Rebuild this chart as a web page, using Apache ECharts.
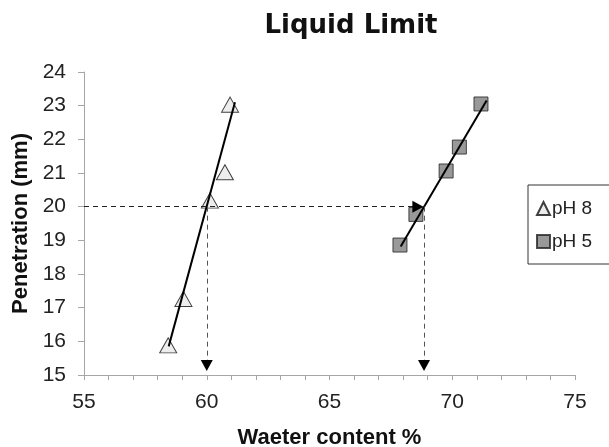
<!DOCTYPE html>
<html>
<head>
<meta charset="utf-8">
<script src="https://cdn.jsdelivr.net/npm/echarts@6/dist/echarts.min.js"></script>
<style>
  html, body { margin: 0; padding: 0; background: #fff; }
  #chart { width: 609px; height: 447px; }
</style>
</head>
<body>
<div id="chart"></div>
<script>
// Cone penetration readings: water content (%) vs penetration (mm)
const ph8Water = [58.43, 59.05, 60.13, 60.74, 60.95];
const ph8Pen   = [15.88, 17.26, 20.18, 21.02, 23.03];
const ph5Water = [67.87, 68.52, 69.75, 70.29, 71.17];
const ph5Pen   = [18.86, 19.77, 21.06, 21.77, 23.05];

// Fitted trend lines (end points)
const ph8TrendWater = [58.45, 61.15];
const ph8TrendPen   = [15.85, 23.10];
const ph5TrendWater = [67.90, 71.40];
const ph5TrendPen   = [18.82, 23.15];

// Liquid limit read at 20 mm penetration
const limitPen = 20;
const limitWater = [60.0, 68.85];
const arrowEndWater = 68.6;
const arrowEndPen = 15.28;

const seriesNames = ['pH 8', 'pH 5'];

const pairs = (xs, ys) => xs.map((x, i) => [x, ys[i]]);

const chart = echarts.init(document.getElementById('chart'), null, { renderer: 'canvas' });

const axisGrey = '#a6a6a6';
const textFont = 'Liberation Sans, Arial, sans-serif';
const dash = [5, 4];

chart.setOption({
  animation: false,
  backgroundColor: '#fff',
  title: {
    text: 'Liquid Limit',
    left: 346,
    textAlign: 'center',
    top: 8,
    textStyle: { fontFamily: 'DejaVu Sans', fontWeight: 'bold', fontSize: 26, color: '#111' }
  },
  grid: { left: 84, right: 34, top: 72, bottom: 72, containLabel: false, outerBoundsMode: 'none' },
  legend: {
    orient: 'vertical',
    left: 528,
    top: 185,
    data: seriesNames,
    itemWidth: 13,
    itemHeight: 13,
    itemGap: 14,
    padding: [14, 30, 13, 8],
    borderColor: '#333',
    borderWidth: 1,
    textStyle: { fontFamily: textFont, fontSize: 19, color: '#222', padding: [0, 0, 0, -3] }
  },
  xAxis: {
    type: 'value',
    min: 55,
    max: 75,
    interval: 1,
    name: 'Waeter content %',
    nameLocation: 'middle',
    nameGap: 52,
    nameTextStyle: { fontFamily: textFont, fontWeight: 'bold', fontSize: 22, color: '#111' },
    axisLine: { show: true, onZero: false, lineStyle: { color: axisGrey, width: 1 } },
    axisTick: { show: true, length: 5, lineStyle: { color: axisGrey } },
    axisLabel: {
      margin: 17,
      fontFamily: textFont, fontSize: 21, color: '#222',
      formatter: v => (v % 5 === 0 ? String(v) : '')
    },
    splitLine: { show: false }
  },
  yAxis: {
    type: 'value',
    min: 15,
    max: 24,
    interval: 1,
    name: 'Penetration (mm)',
    nameLocation: 'middle',
    nameGap: 50,
    nameTextStyle: { fontFamily: textFont, fontWeight: 'bold', fontSize: 22, color: '#111' },
    axisLine: { show: true, onZero: false, lineStyle: { color: axisGrey, width: 1 } },
    axisTick: { show: true, length: 6, lineStyle: { color: axisGrey } },
    axisLabel: { margin: 18, fontFamily: textFont, fontSize: 21, color: '#222' },
    splitLine: { show: false }
  },
  series: [
    {
      name: 'guides',
      type: 'line',
      data: [],
      silent: true,
      z: 1,
      markLine: {
        silent: true,
        animation: false,
        label: { show: false },
        symbol: ['none', 'none'],
        data: [
          [
            { coord: [55, limitPen], lineStyle: { color: '#222', type: dash, width: 1 } },
            { coord: [arrowEndWater, limitPen] }
          ],
          [
            { coord: [limitWater[0], limitPen], lineStyle: { color: '#555', type: dash, width: 1 } },
            { coord: [limitWater[0], arrowEndPen] }
          ],
          [
            { coord: [limitWater[1], limitPen], lineStyle: { color: '#555', type: dash, width: 1 } },
            { coord: [limitWater[1], arrowEndPen] }
          ]
        ]
      },
      markPoint: {
        silent: true,
        animation: false,
        label: { show: false },
        symbol: 'triangle',
        symbolSize: [12, 11],
        itemStyle: { color: '#000' },
        data: [
          { coord: [arrowEndWater, limitPen], symbolRotate: -90 },
          { coord: [limitWater[0], arrowEndPen], symbolRotate: 180 },
          { coord: [limitWater[1], arrowEndPen], symbolRotate: 180 }
        ]
      }
    },
    {
      name: 'pH 8',
      type: 'scatter',
      data: pairs(ph8Water, ph8Pen),
      symbol: 'triangle',
      symbolSize: [17, 15],
      itemStyle: { color: '#e8e8e8', borderColor: '#111', borderWidth: 1 },
      z: 3
    },
    {
      name: 'pH 5',
      type: 'scatter',
      data: pairs(ph5Water, ph5Pen),
      symbol: 'rect',
      symbolSize: 14,
      itemStyle: { color: '#7f7f7f', borderColor: '#222', borderWidth: 1 },
      z: 3
    },
    {
      name: 'pH 8 trend',
      type: 'line',
      data: pairs(ph8TrendWater, ph8TrendPen),
      showSymbol: false,
      silent: true,
      lineStyle: { color: '#000', width: 2 },
      z: 4
    },
    {
      name: 'pH 5 trend',
      type: 'line',
      data: pairs(ph5TrendWater, ph5TrendPen),
      showSymbol: false,
      silent: true,
      lineStyle: { color: '#000', width: 2 },
      z: 4
    }
  ]
});
</script>
</body>
</html>
